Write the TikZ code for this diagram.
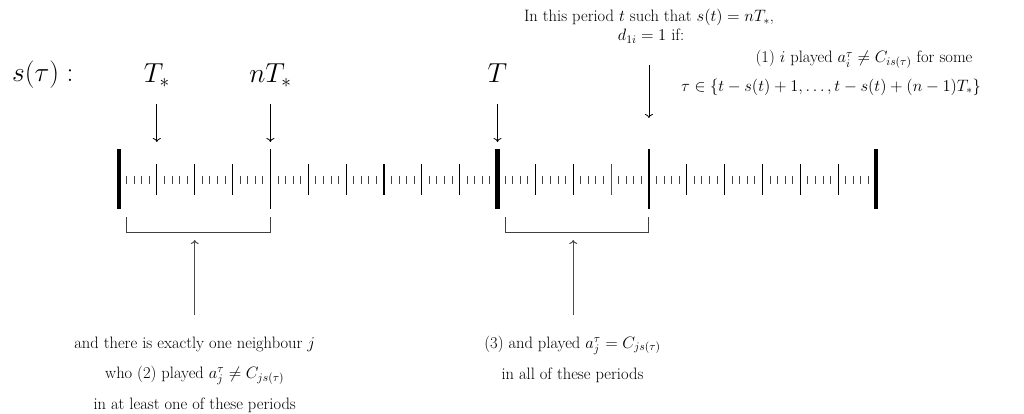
\RequirePackage{fix-cm}
\documentclass[tikz,border=0pt]{standalone}
\usepackage{fontspec}
\usetikzlibrary{arrows.meta}
\begin{document}
\begin{tikzpicture}[x=1pt,y=-1pt,
  thickbar/.style={line width=4.5pt},
  tallbar/.style={line width=1.5pt},
  midtick/.style={line width=1.1pt},
  smalltick/.style={line width=0.9pt, black!75},
  redtick/.style={line width=1.1pt, red},
  bracketline/.style={line width=1pt, black!75},
  downarr/.style={line width=0.8pt, -{To[length=4pt,width=8pt]}},
  uparr/.style={line width=1pt, black!70, -{To[length=4pt,width=8pt]}},
  small/.style={font=\fontsize{16.5}{19}\selectfont, inner sep=0pt, anchor=base},
  big/.style={font=\fontsize{27.5}{32}\selectfont, inner sep=0pt, anchor=base},
]
\useasboundingbox (0,0) rectangle (1024,414);
\def\px{37.85}
% small ticks
\foreach \i in {0,...,19} {
  \foreach \j in {1,...,4} {
    \draw[smalltick] ({119+\i*\px+\j*7.57},176) -- ({119+\i*\px+\j*7.57},183.5);
  }
}
% period boundaries
\foreach \i in {1,2,3,5,6,7,8,9,11,12,15,16,17,18,19} {
  \draw[midtick] ({119+\i*\px},164.5) -- ({119+\i*\px},194.5);
}
\draw[redtick] ({119+13*\px},164.5) -- ({119+13*\px},194.5);
\foreach \i in {4,14} {
  \draw[tallbar] ({119+\i*\px},149) -- ({119+\i*\px},209);
}
\foreach \i in {0,10,20} {
  \draw[thickbar] ({119+\i*\px},149) -- ({119+\i*\px},209);
}
% top labels
\node[big, anchor=base west] (ls) at (12,82) {$s(\tau):$};
\node[big] (lTs) at (156.85,83) {$T_*$};
\node[big] (lnTs) at (270.4,83) {$nT_*$};
\node[big] (lT) at (497.5,83) {$T$};
% down arrows
\coordinate (a1s) at (156.85,104); \coordinate (a1e) at (156.85,142);
\coordinate (a2s) at (270.4,104);  \coordinate (a2e) at (270.4,142);
\coordinate (a3s) at (497.5,104);  \coordinate (a3e) at (497.5,142);
\coordinate (a4s) at (648.9,65);   \coordinate (a4e) at (648.9,118);
\draw[downarr] (a1s) -- (a1e);
\draw[downarr] (a2s) -- (a2e);
\draw[downarr] (a3s) -- (a3e);
\draw[downarr] (a4s) -- (a4e);
% top right texts
\node[small] (t1) at (649,22) {In this period $t$ such that $s(t) = nT_*$,};
\node[small] (t2) at (651,41) {$d_{1i} = 1$ if:};
\node[small] (t3) at (864,63) {(1) $i$ played $a_i^\tau \neq C_{is(\tau)}$ for some};
\node[small] (t4) at (831,91.5) {$\tau \in \{t - s(t) + 1, \ldots, t - s(t) + (n-1)T_*\}$};
% brackets
\coordinate (bl1) at (126.6,217); \coordinate (bl2) at (126.6,232.7);
\coordinate (bl3) at (270.4,232.7); \coordinate (bl4) at (270.4,217);
\coordinate (br1) at (505,217); \coordinate (br2) at (505,232.7);
\coordinate (br3) at (648.9,232.7); \coordinate (br4) at (648.9,217);
\draw[bracketline] (bl1) -- (bl2) -- (bl3) -- (bl4);
\draw[bracketline] (br1) -- (br2) -- (br3) -- (br4);
% up arrows
\coordinate (u1s) at (194.7,315); \coordinate (u1e) at (194.7,240);
\coordinate (u2s) at (573.2,315); \coordinate (u2e) at (573.2,240);
\draw[uparr] (u1s) -- (u1e);
\draw[uparr] (u2s) -- (u2e);
% bottom texts
\node[small] (b1) at (194.7,348) {and there is exactly one neighbour $j$};
\node[small] (b2) at (194.7,378.5) {who (2) played $a_j^\tau \neq C_{js(\tau)}$};
\node[small] (b3) at (194.7,409) {in at least one of these periods};
\node[small] (c1) at (572.5,348) {(3) and played $a_j^\tau = C_{js(\tau)}$};
\node[small] (c2) at (572.5,379) {in all of these periods};
\end{tikzpicture}
\end{document}
